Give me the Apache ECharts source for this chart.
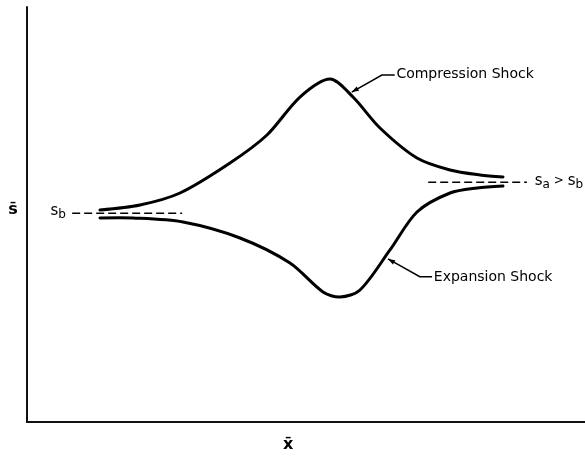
<!DOCTYPE html>
<html><head><meta charset="utf-8">
<script src="https://cdn.jsdelivr.net/npm/echarts@6/dist/echarts.min.js"></script>
<style>html,body{margin:0;padding:0;background:#fff}#c{width:585px;height:459px}</style>
</head><body><div id="c"></div>
<script>
// Compression shock curve (x, s)
const compX = [13.08, 20.25, 27.42, 36.38, 43.01, 48.92, 54.30, 58.42, 63.26, 69.89, 75.81, 81.18, 85.30];
const compY = [51.08, 52.29, 55.18, 62.41, 69.16, 78.31, 82.65, 78.31, 70.84, 63.61, 60.72, 59.52, 59.04];
// Expansion shock curve (x, s)
const expX = [13.08, 19.00, 27.96, 38.17, 47.13, 53.05, 56.09, 59.68, 65.05, 69.89, 75.81, 80.65, 85.30];
const expY = [49.16, 49.16, 48.19, 44.34, 38.31, 31.33, 30.12, 31.81, 41.45, 50.60, 55.18, 56.39, 56.87];
// Reference levels
const sbX = [8.1, 27.8];
const sbLevel = 50.3;
const saX = [71.9, 89.6];
const saLevel = 57.8;

const zip = (xs, ys) => xs.map((x, i) => [x, ys[i]]);
const FONT = 'DejaVu Sans';

function curveSeries(name, xs, ys) {
  return {
    type: 'custom', name: name, data: zip(xs, ys),
    renderItem: function (params, api) {
      if (params.dataIndex !== 0) return null;
      const pts = xs.map((x, i) => api.coord([x, ys[i]]));
      return {type: 'polyline', shape: {points: pts, smooth: 0.3},
              style: {stroke: '#000', lineWidth: 3, fill: null, lineJoin: 'round', lineCap: 'round'}};
    }
  };
}

const chart = echarts.init(document.getElementById('c'), null, {renderer: 'canvas'});
const axisCommon = {
  type: 'value', min: 0, max: 100,
  axisLine: {show: true, lineStyle: {color: '#111', width: 2}},
  axisTick: {show: false}, axisLabel: {show: false}, splitLine: {show: false}
};
chart.setOption({
  animation: false,
  backgroundColor: '#fff',
  grid: {left: 27, right: 0, top: 7, bottom: 37},
  xAxis: Object.assign({}, axisCommon),
  yAxis: Object.assign({}, axisCommon),
  series: [
    curveSeries('Compression Shock', compX, compY),
    curveSeries('Expansion Shock', expX, expY),
    {type: 'line', name: 'sb', data: sbX.map(x => [x, sbLevel]), showSymbol: false,
     lineStyle: {color: '#000', width: 1.5, type: [8, 4]}},
    {type: 'line', name: 'sa', data: saX.map(x => [x, saLevel]), showSymbol: false,
     lineStyle: {color: '#000', width: 1.5, type: [8, 4]}}
  ]
});

function px(x, y) { return chart.convertToPixel({gridIndex: 0}, [x, y]); }
function poly(points, w) {
  return {type: 'polyline', shape: {points: points.map(p => px(p[0], p[1]))},
          style: {stroke: '#000', lineWidth: w || 1.5, fill: null}};
}
function txt(p, text, size) {
  const q = px(p[0], p[1]);
  return {type: 'text', x: q[0], y: q[1],
    style: {text: text, fill: '#000', font: (size || 13) + 'px "' + FONT + '"',
      verticalAlign: 'middle', align: 'left'}};
}
function arrowHead(tip, from) {
  const a = px(tip[0], tip[1]), b = px(from[0], from[1]);
  const ang = Math.atan2(b[1] - a[1], b[0] - a[0]);
  const L = 7, W = 2.5;
  const bx = a[0] + L * Math.cos(ang), by = a[1] + L * Math.sin(ang);
  const nx = -Math.sin(ang) * W, ny = Math.cos(ang) * W;
  return {type: 'polygon', shape: {points: [a, [bx + nx, by + ny], [bx - nx, by - ny]]}, style: {fill: '#000'}};
}

const compLeader = [[58.2, 79.5], [63.6, 83.6], [65.9, 83.6]];
const expLeader = [[64.7, 39.3], [70.4, 35.0], [72.6, 35.0]];
const sbPos = px(4.2, 50.8);
const saPos = px(91.0, 58.0);
const sLabel = px(-2.5, 51.2);
const xLabel = px(46.8, -5.5);

chart.setOption({
  graphic: [
    poly(compLeader), arrowHead(compLeader[0], compLeader[1]),
    txt([66.2, 83.8], 'Compression Shock', 14),
    poly(expLeader), arrowHead(expLeader[0], expLeader[1]),
    txt([72.9, 34.9], 'Expansion Shock', 14),
    {type: 'text', x: sbPos[0], y: sbPos[1], style: {
      text: '{s|s}{sub|b}', font: '13px "' + FONT + '"', verticalAlign: 'middle',
      rich: {s: {fontSize: 15, fontFamily: FONT}, sub: {fontSize: 12, fontFamily: FONT, padding: [8, 0, 0, 0]}}}},
    {type: 'text', x: saPos[0], y: saPos[1], style: {
      text: '{s|s}{sub|a}{op| > }{s|s}{sub|b}', font: '13px "' + FONT + '"', verticalAlign: 'middle',
      rich: {s: {fontSize: 15, fontFamily: FONT}, sub: {fontSize: 12, fontFamily: FONT, padding: [8, 0, 0, 0]},
             op: {fontSize: 12, fontFamily: FONT}}}},
    {type: 'text', x: sLabel[0], y: sLabel[1], style: {text: 's\u0304', font: 'bold 16px "' + FONT + '"',
      fill: '#000', align: 'center', verticalAlign: 'middle'}},
    {type: 'text', x: xLabel[0], y: xLabel[1], style: {text: 'x\u0304', font: 'bold 16px "' + FONT + '"',
      fill: '#000', align: 'center', verticalAlign: 'middle'}}
  ]
});
</script></body></html>
